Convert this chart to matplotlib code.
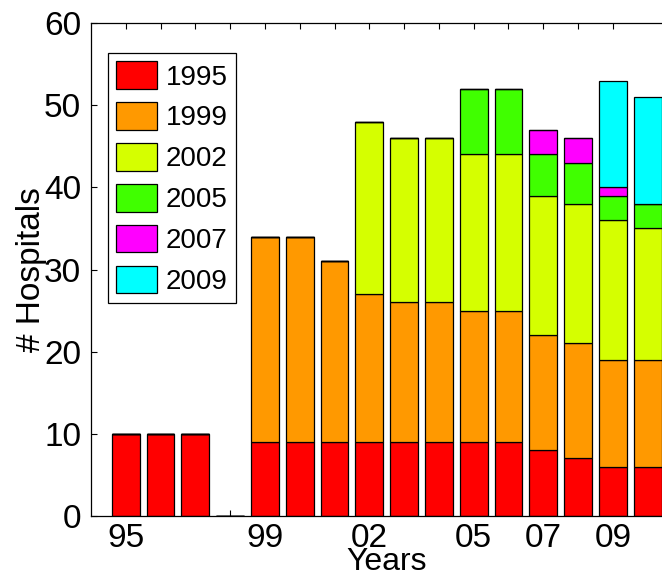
import matplotlib
matplotlib.use("Agg")
import matplotlib.pyplot as plt
import numpy as np

plt.rcParams['font.family'] = ['Liberation Sans', 'DejaVu Sans']

# Survey years, one bar per year (1995 .. 2010)
years = list(range(1995, 2011))
tick_labels = ['95', '', '', '', '99', '', '', '02', '', '', '05', '', '07', '', '09']

# Hospitals contributed by each enrolment cohort, per year
cohort_names = ['1995', '1999', '2002', '2005', '2007', '2009']
cohort_1995 = [10, 10, 10, 0, 9, 9, 9, 9, 9, 9, 9, 9, 8, 7, 6, 6]
cohort_1999 = [0, 0, 0, 0, 25, 25, 22, 18, 17, 17, 16, 16, 14, 14, 13, 13]
cohort_2002 = [0, 0, 0, 0, 0, 0, 0, 21, 20, 20, 19, 19, 17, 17, 17, 16]
cohort_2005 = [0, 0, 0, 0, 0, 0, 0, 0, 0, 0, 8, 8, 5, 5, 3, 3]
cohort_2007 = [0, 0, 0, 0, 0, 0, 0, 0, 0, 0, 0, 0, 3, 3, 1, 0]
cohort_2009 = [0, 0, 0, 0, 0, 0, 0, 0, 0, 0, 0, 0, 0, 0, 13, 13]
cohort_colors = ['#FF0000', '#FF9900', '#D5FF00', '#40FF00', '#FF00FF', '#00FFFF']

series = [cohort_1995, cohort_1999, cohort_2002, cohort_2005, cohort_2007, cohort_2009]

fig = plt.figure(figsize=(6.62, 5.77), dpi=100)
ax = fig.add_axes([91 / 662, 61 / 577, 591.4 / 662, 493 / 577])

x = np.arange(1, len(years) + 1)
bottom = np.zeros(len(years))
for name, vals, col in zip(cohort_names, series, cohort_colors):
    vals = np.array(vals, dtype=float)
    ax.bar(x, vals, width=0.8, bottom=bottom, color=col, edgecolor='black',
           linewidth=0.9, label=name)
    bottom += vals

ax.set_xlim(0, 17)
ax.set_ylim(0, 60)
ax.set_yticks(range(0, 61, 10))
ax.set_xticks(np.arange(1, len(tick_labels) + 1))
ax.set_xticklabels(tick_labels)
ax.set_axisbelow(True)
ax.tick_params(direction='in', length=4, width=0.8, top=True, right=True,
               labelsize=24)
ax.tick_params(axis='x', pad=5)
ax.tick_params(axis='y', pad=7)
for s in ax.spines.values():
    s.set_linewidth(0.9)

ax.set_xlabel('Years', fontsize=23, labelpad=-5)
ax.set_ylabel('# Hospitals', fontsize=24, labelpad=-2)

leg = ax.legend(loc='upper left', bbox_to_anchor=(0.0287, 0.939),
                borderaxespad=0, fontsize=20, fancybox=False, framealpha=1,
                handlelength=1.48, handleheight=1.15, handletextpad=0.3,
                labelspacing=0.42, borderpad=0.3)
leg.get_frame().set_edgecolor('black')
leg.get_frame().set_linewidth(0.9)

fig.savefig('out.png', dpi=100)
